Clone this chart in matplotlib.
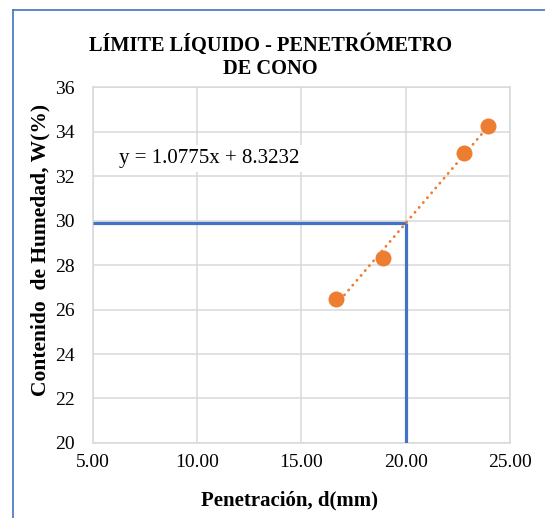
"""Límite líquido por penetrómetro de cono: contenido de humedad vs penetración."""

import numpy as np
import matplotlib
matplotlib.use("Agg")
import matplotlib.pyplot as plt
from matplotlib.lines import Line2D

# Datos
penetracion = [16.66, 18.92, 22.77, 23.96]   # d (mm)
humedad = [26.47, 28.30, 33.05, 34.25]       # W (%)
ecuacion = "y = 1.0775x + 8.3232"
d_ll = 20.0                                   # penetración de referencia
w_ll = 29.87                                  # límite líquido leído

x_ticks = [5, 10, 15, 20, 25]
y_ticks = [20, 22, 24, 26, 28, 30, 32, 34, 36]

SERIF = ["Liberation Serif", "DejaVu Serif"]
plt.rcParams["font.family"] = SERIF

ORANGE = "#ED7D31"
BLUE = "#4472C4"
GRID = "#d9d9d9"

fig = plt.figure(figsize=(5.45, 5.18), dpi=100)
ax = fig.add_axes([0.1706, 0.1448, 0.9358 - 0.1706, 0.832 - 0.1448])

# marco azul del gráfico (recortado a la derecha y abajo)
fig.add_artist(Line2D([13 / 545, 13 / 545], [0, 1 - 10 / 518],
                      transform=fig.transFigure, color=BLUE, lw=1.2))
fig.add_artist(Line2D([13 / 545, 1], [1 - 10 / 518, 1 - 10 / 518],
                      transform=fig.transFigure, color=BLUE, lw=1.2))

# líneas de lectura del límite líquido
ax.plot([5, d_ll], [w_ll, w_ll], color=BLUE, lw=2.3, zorder=3,
        solid_capstyle="butt")
ax.plot([d_ll, d_ll], [20, w_ll], color=BLUE, lw=2.3, zorder=3,
        solid_capstyle="butt")

# línea de tendencia
coef = np.polyfit(penetracion, humedad, 1)
xt = np.array([min(penetracion), max(penetracion)])
ax.plot(xt, np.polyval(coef, xt), color=ORANGE, lw=2.0,
        linestyle=(0, (0.1, 2.2)), dash_capstyle="round", zorder=4)

ax.plot(penetracion, humedad, "o", color=ORANGE, markersize=11.5,
        markeredgewidth=0, zorder=5)

ax.text(0.279, 0.80, ecuacion, transform=ax.transAxes, fontsize=15,
        ha="center", va="center",
        bbox=dict(facecolor="white", edgecolor="none", pad=3))

ax.set_xlim(5, 25)
ax.set_ylim(20, 36)
ax.set_xticks(x_ticks)
ax.set_yticks(y_ticks)
ax.set_xticklabels([f"{v:.2f}" for v in x_ticks])
ax.tick_params(length=0, labelsize=14)
ax.tick_params(axis="x", pad=8)
ax.tick_params(axis="y", pad=13)
ax.grid(True, color=GRID, lw=1.1)
ax.set_axisbelow(True)
for s in ax.spines.values():
    s.set_color(GRID)
    s.set_linewidth(1.1)

ax.set_xlabel("Penetración, d(mm)", fontsize=15, fontweight="bold")
ax.set_ylabel("Contenido  de Humedad, W(%)", fontsize=15.5,
              fontweight="bold")
ax.xaxis.set_label_coords(0.472, -0.133)
ax.yaxis.set_label_coords(-0.103, 0.542)
fig.text(0.496, 1 - 56.5 / 518, "LÍMITE LÍQUIDO - PENETRÓMETRO\nDE CONO",
         ha="center", va="center", fontsize=14.7, fontweight="bold",
         family=SERIF, linespacing=1.2)

fig.savefig("out.png", dpi=100)
